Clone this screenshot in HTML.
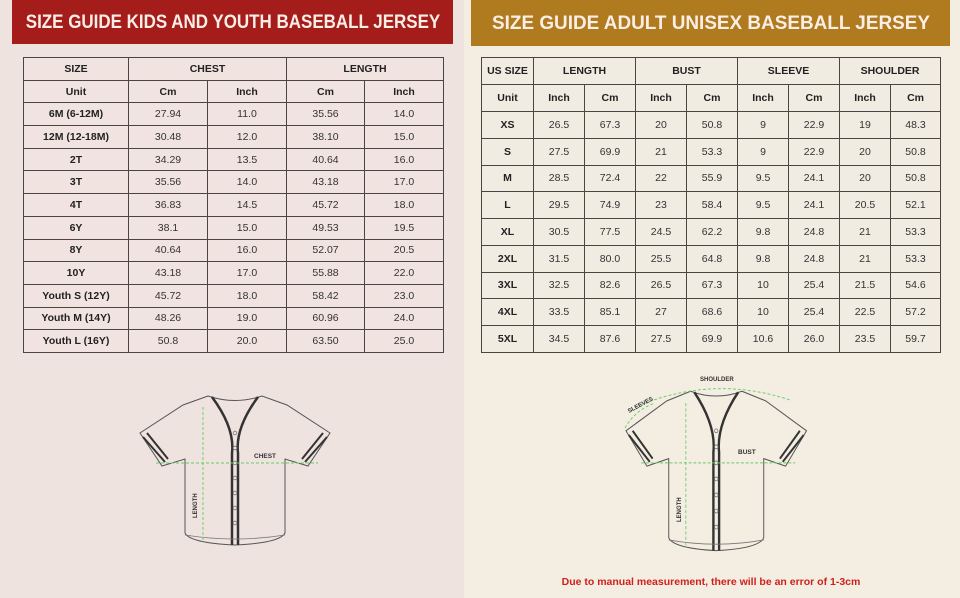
<!DOCTYPE html>
<html><head><meta charset="utf-8"><style>
*{margin:0;padding:0;box-sizing:border-box}
body{width:960px;height:598px;overflow:hidden;position:relative;font-family:"Liberation Sans",sans-serif;color:#222}
.lp{position:absolute;left:0;top:0;width:464px;height:598px;background:#efe3df}
.rp{position:absolute;left:464px;top:0;width:496px;height:598px;background:#f3ede2}
.hd{position:absolute;color:#fbeee6;font-weight:bold;font-size:19.5px;white-space:nowrap;overflow:hidden}
.hd span{position:absolute;left:50%;top:0}
table{position:absolute;border-collapse:collapse;table-layout:fixed}
td{border:1.3px solid #4a4442;text-align:center;font-size:10.5px;padding:0;color:#333}
td.b,tr.h td{font-weight:bold;color:#222}
.lt td{background:#f1e4e0}
.rt td{background:#f1ece2}
</style></head><body>
<div class="lp"></div><div class="rp"></div>
<div class="hd" style="left:12px;top:0;width:441px;height:44px;line-height:44px;background:#a51d1b"><span style="transform:translateX(-50%) scaleX(0.87)">SIZE GUIDE KIDS AND YOUTH BASEBALL JERSEY</span></div>
<div class="hd" style="left:471px;top:0;width:479px;height:46px;line-height:46px;background:#b07a1e"><span style="transform:translateX(-50%) scaleX(0.97)">SIZE GUIDE ADULT UNISEX BASEBALL JERSEY</span></div>

<table class="lt" style="left:23px;top:57px;width:420px;height:296px">
<colgroup><col style="width:105px"><col style="width:79px"><col style="width:79px"><col style="width:78px"><col style="width:79px"></colgroup>
<tr class="h"><td>SIZE</td><td colspan="2">CHEST</td><td colspan="2">LENGTH</td></tr>
<tr class="h"><td>Unit</td><td>Cm</td><td>Inch</td><td>Cm</td><td>Inch</td></tr>
<tr><td class="b">6M (6-12M)</td><td>27.94</td><td>11.0</td><td>35.56</td><td>14.0</td></tr>
<tr><td class="b">12M (12-18M)</td><td>30.48</td><td>12.0</td><td>38.10</td><td>15.0</td></tr>
<tr><td class="b">2T</td><td>34.29</td><td>13.5</td><td>40.64</td><td>16.0</td></tr>
<tr><td class="b">3T</td><td>35.56</td><td>14.0</td><td>43.18</td><td>17.0</td></tr>
<tr><td class="b">4T</td><td>36.83</td><td>14.5</td><td>45.72</td><td>18.0</td></tr>
<tr><td class="b">6Y</td><td>38.1</td><td>15.0</td><td>49.53</td><td>19.5</td></tr>
<tr><td class="b">8Y</td><td>40.64</td><td>16.0</td><td>52.07</td><td>20.5</td></tr>
<tr><td class="b">10Y</td><td>43.18</td><td>17.0</td><td>55.88</td><td>22.0</td></tr>
<tr><td class="b">Youth S (12Y)</td><td>45.72</td><td>18.0</td><td>58.42</td><td>23.0</td></tr>
<tr><td class="b">Youth M (14Y)</td><td>48.26</td><td>19.0</td><td>60.96</td><td>24.0</td></tr>
<tr><td class="b">Youth L (16Y)</td><td>50.8</td><td>20.0</td><td>63.50</td><td>25.0</td></tr>
</table>

<table class="rt" style="left:481px;top:57px;width:459px;height:296px">
<colgroup><col style="width:52px"><col style="width:51px"><col style="width:51px"><col style="width:51px"><col style="width:51px"><col style="width:51px"><col style="width:51px"><col style="width:51px"><col style="width:50px"></colgroup>
<tr class="h" style="height:27px"><td>US SIZE</td><td colspan="2">LENGTH</td><td colspan="2">BUST</td><td colspan="2">SLEEVE</td><td colspan="2">SHOULDER</td></tr>
<tr class="h" style="height:27px"><td>Unit</td><td>Inch</td><td>Cm</td><td>Inch</td><td>Cm</td><td>Inch</td><td>Cm</td><td>Inch</td><td>Cm</td></tr>
<tr><td class="b">XS</td><td>26.5</td><td>67.3</td><td>20</td><td>50.8</td><td>9</td><td>22.9</td><td>19</td><td>48.3</td></tr>
<tr><td class="b">S</td><td>27.5</td><td>69.9</td><td>21</td><td>53.3</td><td>9</td><td>22.9</td><td>20</td><td>50.8</td></tr>
<tr><td class="b">M</td><td>28.5</td><td>72.4</td><td>22</td><td>55.9</td><td>9.5</td><td>24.1</td><td>20</td><td>50.8</td></tr>
<tr><td class="b">L</td><td>29.5</td><td>74.9</td><td>23</td><td>58.4</td><td>9.5</td><td>24.1</td><td>20.5</td><td>52.1</td></tr>
<tr><td class="b">XL</td><td>30.5</td><td>77.5</td><td>24.5</td><td>62.2</td><td>9.8</td><td>24.8</td><td>21</td><td>53.3</td></tr>
<tr><td class="b">2XL</td><td>31.5</td><td>80.0</td><td>25.5</td><td>64.8</td><td>9.8</td><td>24.8</td><td>21</td><td>53.3</td></tr>
<tr><td class="b">3XL</td><td>32.5</td><td>82.6</td><td>26.5</td><td>67.3</td><td>10</td><td>25.4</td><td>21.5</td><td>54.6</td></tr>
<tr><td class="b">4XL</td><td>33.5</td><td>85.1</td><td>27</td><td>68.6</td><td>10</td><td>25.4</td><td>22.5</td><td>57.2</td></tr>
<tr><td class="b">5XL</td><td>34.5</td><td>87.6</td><td>27.5</td><td>69.9</td><td>10.6</td><td>26.0</td><td>23.5</td><td>59.7</td></tr>
</table>

<svg width="960" height="598" style="position:absolute;left:0;top:0" font-family="Liberation Sans, sans-serif">
<defs>
<g id="j">
<path d="M68,3 L43,12 L0,40 L22,73 L45,66 L45,140 Q50,150 95,152 Q140,150 145,140 L145,66 L168,73 L190,40 L147,12 L122,3 Q95,12 68,3 Z" fill="none" stroke="#555" stroke-width="1"/>
<path d="M72,4 Q95,35 92,60 L92,152 M118,4 Q95,35 98,60 L98,152" fill="none" stroke="#333" stroke-width="2.5"/>
<path d="M3,44 L25,69 M7,40 L28,66 M187,44 L165,69 M183,40 L162,66" stroke="#333" stroke-width="2"/>
<path d="M45,142 Q95,150 145,142" fill="none" stroke="#777" stroke-width="0.8"/>
<g fill="none" stroke="#777" stroke-width="0.8"><circle cx="95" cy="40" r="1.8"/><circle cx="95" cy="55" r="1.8"/><circle cx="95" cy="70" r="1.8"/><circle cx="95" cy="85" r="1.8"/><circle cx="95" cy="100" r="1.8"/><circle cx="95" cy="115" r="1.8"/><circle cx="95" cy="130" r="1.8"/></g>
<path d="M63,14 L63,148 M16,70 L178,70" stroke="#6c6" stroke-width="0.9" stroke-dasharray="3,2"/>
</g>
</defs>
<use href="#j" x="140" y="393"/>
<text x="254" y="458" font-size="6.5" font-weight="bold" fill="#333">CHEST</text>
<text x="0" y="0" font-size="6" font-weight="bold" fill="#333" transform="translate(197,518) rotate(-90)">LENGTH</text>
<g transform="translate(626,388) scale(0.95,1.07)"><use href="#j"/></g>
<path d="M640,405 Q715,375 790,400" fill="none" stroke="#6c6" stroke-width="0.9" stroke-dasharray="3,2"/>
<path d="M625,428 Q635,410 655,403" fill="none" stroke="#6c6" stroke-width="0.9" stroke-dasharray="3,2"/>
<text x="700" y="381" font-size="6" font-weight="bold" fill="#333">SHOULDER</text>
<text x="0" y="0" font-size="6" font-weight="bold" fill="#333" transform="translate(629,413) rotate(-28)">SLEEVES</text>
<text x="738" y="454" font-size="6.5" font-weight="bold" fill="#333">BUST</text>
<text x="0" y="0" font-size="6" font-weight="bold" fill="#333" transform="translate(681,522) rotate(-90)">LENGTH</text>
<text x="711" y="585" font-size="10.5" font-weight="bold" fill="#d0201c" text-anchor="middle">Due to manual measurement, there will be an error of 1-3cm</text>
</svg>
</body></html>
